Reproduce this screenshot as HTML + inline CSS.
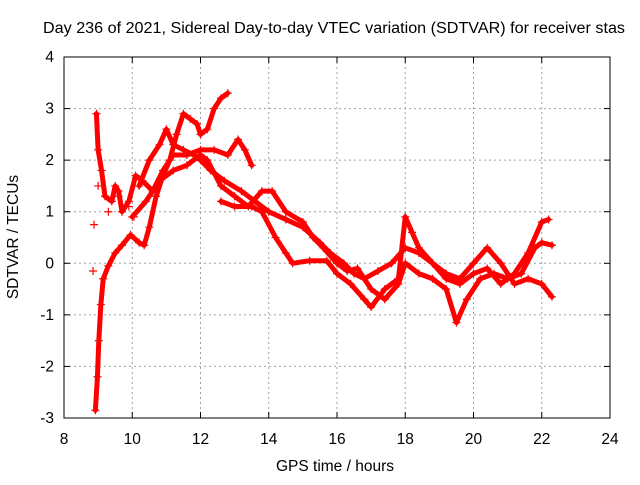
<!DOCTYPE html>
<html><head><meta charset="utf-8"><style>
body{margin:0;background:#fff}
svg text{font-family:"Liberation Sans",sans-serif;font-size:15.5px;fill:#000}
</style></head><body>
<svg id="chart" width="640" height="480" xmlns="http://www.w3.org/2000/svg">
<rect width="640" height="480" fill="#fff"/>
<g id="grid"></g>
<g id="series"></g>
<rect x="64" y="57" width="546" height="361" fill="none" stroke="#000" stroke-width="1"/>
<g id="ticks"></g>
<text x="334" y="33" text-anchor="middle" textLength="582" lengthAdjust="spacingAndGlyphs">Day 236 of 2021, Sidereal Day-to-day VTEC variation (SDTVAR) for receiver stas</text>
<text x="335" y="471" text-anchor="middle">GPS time / hours</text>
<text transform="translate(18,237) rotate(-90)" text-anchor="middle">SDTVAR / TECUs</text>
</svg>
<script>
const xTicks=[8,10,12,14,16,18,20,22,24];
const yTicks=[-3,-2,-1,0,1,2,3,4];
const s1x=[8.92,8.98,9.02,9.08,9.15,9.3,9.5,9.7,9.95,10.2,10.35,10.5,10.7,10.9,11.1,11.3,11.5,11.7,11.9,12.0,12.2,12.4,12.6,12.8];
const s1y=[-2.85,-2.2,-1.5,-0.8,-0.3,-0.05,0.2,0.35,0.55,0.4,0.35,0.7,1.3,1.7,2.0,2.5,2.9,2.8,2.7,2.5,2.6,3.0,3.2,3.3];
const s2x=[8.95,9.0,9.1,9.2,9.4,9.5,9.6,9.7,9.9,10.1,10.3,10.6,10.9,11.2,11.6,12.0,12.4,12.8,13.1,13.3,13.5];
const s2y=[2.9,2.2,1.8,1.3,1.2,1.5,1.4,1.0,1.2,1.7,1.6,1.4,1.8,2.1,2.1,2.2,2.2,2.1,2.4,2.2,1.9];
const s3x=[10.2,10.5,10.8,11.0,11.2,11.5,11.8,12.0,12.3,12.7,13.2,13.6,14.0,14.5,15.0,15.5,15.8,16.2,16.5,16.8,17.2,17.6,18.0,18.4,18.8,19.2,19.6,20.0,20.4,20.8,21.2,21.6,22.0,22.3];
const s3y=[1.5,2.0,2.3,2.6,2.3,2.2,2.1,2.0,1.8,1.6,1.4,1.2,1.0,0.85,0.7,0.4,0.2,0.0,-0.2,-0.3,-0.15,0.0,0.3,0.2,0.0,-0.2,-0.3,0.0,0.3,0.0,-0.4,-0.3,-0.4,-0.65];
const s4x=[10.0,10.4,10.8,11.2,11.6,12.0,12.2,12.6,13.0,13.4,13.8,14.1,14.5,15.0,15.3,15.6,16.0,16.3,16.6,17.0,17.4,17.8,18.0,18.4,18.8,19.2,19.5,19.8,20.2,20.6,21.0,21.4,21.8,22.0,22.3];
const s4y=[0.9,1.2,1.6,1.8,1.9,2.1,2.0,1.5,1.3,1.1,1.4,1.4,1.0,0.8,0.5,0.3,0.0,-0.15,-0.1,-0.5,-0.7,-0.4,0.0,-0.2,-0.3,-0.5,-1.15,-0.7,-0.3,-0.2,-0.3,-0.2,0.3,0.4,0.35];
const s5x=[12.6,13.0,13.5,13.8,14.2,14.5,14.7,15.2,15.7,16.0,16.4,16.8,17.0,17.4,17.8,18.0,18.2,18.4,18.8,19.2,19.6,20.0,20.4,20.8,21.2,21.6,22.0,22.2];
const s5y=[1.2,1.1,1.1,1.0,0.5,0.2,0.0,0.05,0.05,-0.2,-0.4,-0.7,-0.85,-0.5,-0.3,0.9,0.6,0.3,0.0,-0.3,-0.4,-0.2,-0.1,-0.4,-0.2,0.2,0.8,0.85];
const s6x=[8.85,8.88,9.0,9.3,9.6,9.9,10.05];
const s6y=[-0.15,0.75,1.5,1.0,1.3,1.1,0.9];
const seriesX=[s1x,s2x,s3x,s4x,s5x,s6x];
const seriesY=[s1y,s2y,s3y,s4y,s5y,s6y];
const NS="http://www.w3.org/2000/svg";
const X=h=>64+(h-8)*546/16;
const Y=v=>57+(4-v)*361/7;
function mk(t,a,p){const e=document.createElementNS(NS,t);for(const k in a)e.setAttribute(k,a[k]);p.appendChild(e);return e;}
const grid=document.getElementById('grid'),ticks=document.getElementById('ticks'),ser=document.getElementById('series');
xTicks.forEach(t=>{const x=X(t);
 if(t>8&&t<24){const l=mk('line',{x1:x,x2:x,y1:57,y2:418,stroke:'#a0a0a0','stroke-dasharray':'2,3'},grid);
 
 }
 mk('line',{x1:x,x2:x,y1:418,y2:412,stroke:'#000'},ticks);mk('line',{x1:x,x2:x,y1:57,y2:63,stroke:'#000'},ticks);
 const tx=mk('text',{x:x,y:444,'text-anchor':'middle'},ticks);tx.textContent=t;
 
 });
yTicks.forEach(t=>{const y=Y(t);
 if(t>-3&&t<4){const l=mk('line',{x1:64,x2:610,y1:y,y2:y,stroke:'#a0a0a0','stroke-dasharray':'2,3'},grid);
 
 }
 mk('line',{x1:64,x2:70,y1:y,y2:y,stroke:'#000'},ticks);mk('line',{x1:610,x2:604,y1:y,y2:y,stroke:'#000'},ticks);
 const tx=mk('text',{x:54,y:y+5,'text-anchor':'end'},ticks);tx.textContent=t;
 
 });
seriesX.forEach((xs,i)=>{const ys=seriesY[i];
 const g=mk('g',{},ser);
 
 
 if(i<5){const pl=mk('polyline',{points:xs.map((h,j)=>X(h)+','+Y(ys[j])).join(' '),fill:'none',stroke:'#f00','stroke-width':5,'stroke-linejoin':'round','stroke-linecap':'round'},g);
 
 }
 xs.forEach((h,j)=>{const x=X(h),y=Y(ys[j]);
  const p=mk('path',{d:`M${x-4},${y}H${x+4}M${x},${y-4}V${y+4}`,stroke:'#f00','stroke-width':1.2},g);
  
  });
});
</script>
</body></html>
